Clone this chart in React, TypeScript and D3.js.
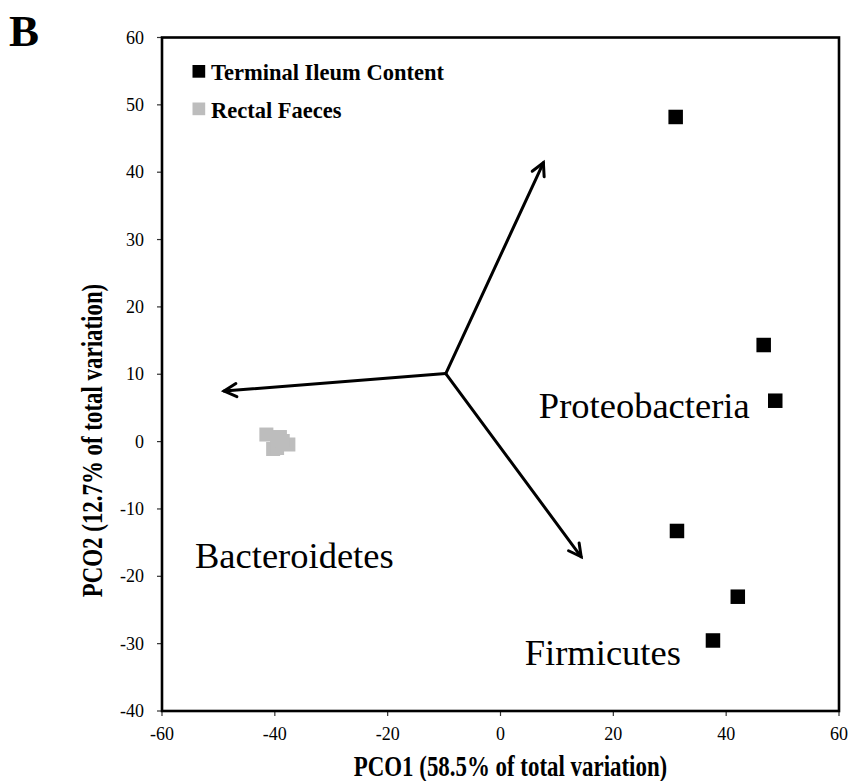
import React from "react";
import * as d3 from "d3";

// Axis ticks
const xTickValues = [-60, -40, -20, 0, 20, 40, 60];
const yTickValues = [60, 50, 40, 30, 20, 10, 0, -10, -20, -30, -40];

// Terminal ileum content samples (PCO1, PCO2)
const ileumX = [31.05, 46.65, 48.7, 31.28, 42.06, 37.66];
const ileumY = [48.2, 14.34, 6.07, -13.27, -23.03, -29.53];

// Rectal faeces samples (PCO1, PCO2)
const faecesX = [-41.5, -39.1, -37.6, -40.3, -39.6, -38.6];
const faecesY = [1.05, 0.68, -0.43, -1.1, -0.95, 0.09];

// Phylum correlation vectors
const vectorOrigin = [-9.7, 10.1];
const vectorNames = ["Bacteroidetes", "Proteobacteria", "Firmicutes"];
const vectorTipX = [-49.0, 7.6, 14.3];
const vectorTipY = [7.5, 41.4, -17.1];
const labelX = [-54.15, 6.8, 4.3];
const labelY = [-18.8, 3.5, -33.2];

const legendNames = ["Terminal Ileum Content", "Rectal Faeces"];
const legendColors = ["#000000", "#bdbdbd"];

const SERIF = "'Liberation Serif', 'Times New Roman', serif";

export default function App() {
  const width = 852;
  const height = 781;
  const x = d3.scaleLinear().domain([-60, 60]).range([162, 839]);
  const y = d3.scaleLinear().domain([-40, 60]).range([711, 37.5]);

  const ox = x(vectorOrigin[0]);
  const oy = y(vectorOrigin[1]);

  const arrowHead = (tx: number, ty: number) => {
    const ang = Math.atan2(ty - oy, tx - ox);
    const len = 14;
    const spread = (28 * Math.PI) / 180;
    const p1 = [tx - len * Math.cos(ang - spread), ty - len * Math.sin(ang - spread)];
    const p2 = [tx - len * Math.cos(ang + spread), ty - len * Math.sin(ang + spread)];
    return `M${p1[0]},${p1[1]}L${tx},${ty}L${p2[0]},${p2[1]}`;
  };

  const ileumSize = 14.5;
  const faecesSize = 14;

  return (
    <svg
      width={width}
      height={height}
      style={{ position: "absolute", left: 0, top: 0, background: "#fff" }}
      fontFamily={SERIF}
    >
      {/* panel letter */}
      <text x={9} y={45.5} fontSize={45} fontWeight="bold">
        B
      </text>

      {/* y ticks */}
      {yTickValues.map((v) => (
        <g key={`y${v}`}>
          <line x1={x(-60) - 5} x2={x(-60)} y1={y(v)} y2={y(v)} stroke="#333" strokeWidth={1.2} />
          <text x={144} y={y(v) + 6} fontSize={18} textAnchor="end">
            {v}
          </text>
        </g>
      ))}

      {/* x ticks */}
      {xTickValues.map((v) => (
        <g key={`x${v}`}>
          <line x1={x(v)} x2={x(v)} y1={y(-40)} y2={y(-40) + 5} stroke="#333" strokeWidth={1.2} />
          <text x={x(v)} y={740} fontSize={18} textAnchor="middle">
            {v}
          </text>
        </g>
      ))}

      {/* plot frame */}
      <rect
        x={x(-60)}
        y={y(60)}
        width={x(60) - x(-60)}
        height={y(-40) - y(60)}
        fill="none"
        stroke="#000"
        strokeWidth={2.6}
      />

      {/* vectors */}
      {vectorNames.map((name, i) => {
        const tx = x(vectorTipX[i]);
        const ty = y(vectorTipY[i]);
        return (
          <g key={name}>
            <line x1={ox} y1={oy} x2={tx} y2={ty} stroke="#000" strokeWidth={3} strokeLinecap="round" />
            <path d={arrowHead(tx, ty)} fill="none" stroke="#000" strokeWidth={3} strokeLinecap="round" strokeLinejoin="miter" />
            <text x={x(labelX[i])} y={y(labelY[i])} fontSize={36.5}>
              {name}
            </text>
          </g>
        );
      })}

      {/* rectal faeces points */}
      {faecesX.map((v, i) => (
        <rect
          key={`f${i}`}
          x={x(v) - faecesSize / 2}
          y={y(faecesY[i]) - faecesSize / 2}
          width={faecesSize}
          height={faecesSize}
          fill={legendColors[1]}
        />
      ))}

      {/* terminal ileum points */}
      {ileumX.map((v, i) => (
        <rect
          key={`t${i}`}
          x={x(v) - ileumSize / 2}
          y={y(ileumY[i]) - ileumSize / 2}
          width={ileumSize}
          height={ileumSize}
          fill={legendColors[0]}
        />
      ))}

      {/* legend */}
      {legendNames.map((name, i) => (
        <g key={name} transform={`translate(192.5, ${65 + i * 37.5})`}>
          <rect x={0} y={0} width={12.7} height={12.7} fill={legendColors[i]} />
          <text x={18.5} y={15} fontSize={22.5} fontWeight="bold">
            {name}
          </text>
        </g>
      ))}

      {/* axis titles */}
      <text
        transform={`translate(${(x(-60) + x(60)) / 2 + 10}, 775.5) scale(1, 1.33)`}
        fontSize={22.9}
        fontWeight="bold"
        textAnchor="middle"
      >
        PCO1 (58.5% of total variation)
      </text>
      <text
        transform={`translate(101.5, 440.5) rotate(-90) scale(1, 1.33)`}
        fontSize={22.9}
        fontWeight="bold"
        textAnchor="middle"
      >
        PCO2 (12.7% of total variation)
      </text>
    </svg>
  );
}
